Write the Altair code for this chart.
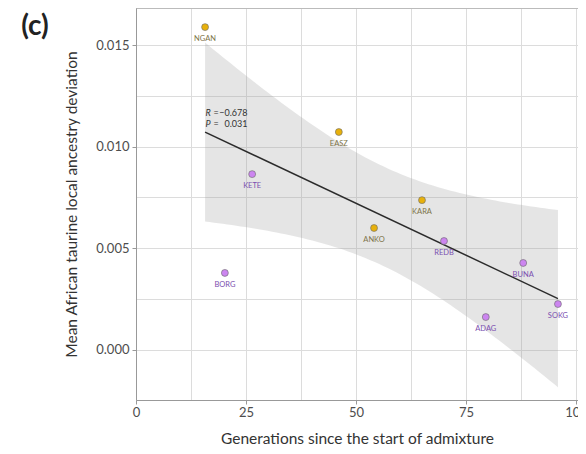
import altair as alt
import pandas as pd
import numpy as np

breeds = ["NGAN", "EASZ", "KETE", "KARA", "ANKO", "REDB", "BUNA", "SOKG", "ADAG", "BORG"]
generations = [15.7, 46.1, 26.4, 65.0, 54.1, 70.0, 88.0, 95.9, 79.5, 20.2]
deviation = [0.01588, 0.01072, 0.00865, 0.00737, 0.00600, 0.00536, 0.00428, 0.00226, 0.00162, 0.00379]
groups = ["A", "A", "B", "A", "A", "B", "B", "B", "B", "B"]

x_ticks = [0, 12.5, 25, 37.5, 50, 62.5, 75, 87.5, 100]
y_ticks = [0.0, 0.0025, 0.005, 0.0075, 0.01, 0.0125, 0.015]
stat_syms = ["R", "P"]
stat_vals = ["\u22120.678", "0.031"]

df = pd.DataFrame({"x": generations, "y": deviation, "breed": breeds, "group": groups})

# 95% confidence band of the linear fit (as geom_smooth does)
xa = np.array(generations)
ya = np.array(deviation)
n = len(xa)
slope, intercept = np.polyfit(xa, ya, 1)
resid = ya - (slope * xa + intercept)
s = np.sqrt((resid ** 2).sum() / (n - 2))
sxx = ((xa - xa.mean()) ** 2).sum()
t = 2.306
gx = np.linspace(xa.min(), xa.max(), 80)
fit = slope * gx + intercept
se = s * np.sqrt(1 / n + (gx - xa.mean()) ** 2 / sxx)
band = pd.DataFrame({"x": gx, "lo": fit - t * se, "hi": fit + t * se})

W, H = 442, 392
xdom = [0, W / 4.4]
ydom = [-0.00246, 0.01682]

xscale = alt.Scale(domain=xdom, nice=False, zero=False)
yscale = alt.Scale(domain=ydom, nice=False, zero=False)

FONT = "Lato"
xaxis = alt.Axis(
    values=x_ticks, title="Generations since the start of admixture",
    labelExpr="datum.value % 25 === 0 ? datum.value : ''",
    tickOpacity={"condition": {"test": "datum.value % 25 === 0", "value": 1}, "value": 0},
    tickSize=4, labelPadding=2, titlePadding=12, labelFontSize=13, titleFontSize=15.5,
    titleFontWeight="normal",
    labelColor="#4d4d4d", titleColor="#333333", tickColor="#999999",
    domainColor="#999999", gridColor="#dcdcdc", labelFont=FONT, titleFont=FONT,
    labelFlush=False, labelOverlap=False,
)
yaxis = alt.Axis(
    values=y_ticks, title="Mean African taurine local ancestry deviation",
    labelExpr="round(datum.value*10000) % 50 === 0 ? format(datum.value, '.3f') : ''",
    tickOpacity={"condition": {"test": "round(datum.value*10000) % 50 === 0", "value": 1}, "value": 0},
    tickSize=4, labelPadding=3, titlePadding=16, labelFontSize=13, titleFontSize=15.5,
    titleFontWeight="normal",
    labelColor="#4d4d4d", titleColor="#333333", tickColor="#999999",
    domainColor="#999999", gridColor="#dcdcdc", labelFont=FONT, titleFont=FONT,
    labelFlush=False, labelOverlap=False,
)

band_layer = alt.Chart(band).mark_area(color="#a0a0a0", opacity=0.28).encode(
    x=alt.X("x:Q", scale=xscale, axis=xaxis),
    y=alt.Y("lo:Q", scale=yscale, axis=yaxis),
    y2="hi:Q",
)

line_layer = alt.Chart(df).transform_regression("x", "y").mark_line(
    color="#2b2b2b", strokeWidth=1.5
).encode(x=alt.X("x:Q", scale=xscale), y=alt.Y("y:Q", scale=yscale))

color_scale = alt.Scale(domain=["A", "B"], range=["#e8b10c", "#cc85f0"])
label_scale = alt.Scale(domain=["A", "B"], range=["#7d7448", "#7b4fb0"])

pts = alt.Chart(df).mark_point(filled=True, size=48, opacity=1, stroke="#6a6a6a", strokeWidth=0.6).encode(
    x=alt.X("x:Q", scale=xscale), y=alt.Y("y:Q", scale=yscale),
    fill=alt.Fill("group:N", scale=color_scale, legend=None),
)

lbls = alt.Chart(df).mark_text(fontSize=7.5, dy=12, font=FONT).encode(
    x=alt.X("x:Q", scale=xscale), y=alt.Y("y:Q", scale=yscale),
    text="breed:N",
    color=alt.Color("group:N", scale=label_scale, legend=None),
)

stats = pd.DataFrame({
    "sym": stat_syms,
    "eq": ["=", "="],
    "val": stat_vals,
    "x": [15.8, 15.8],
    "y": [0.01166, 0.01112],
})
sbase = alt.Chart(stats).encode(x=alt.X("x:Q", scale=xscale), y=alt.Y("y:Q", scale=yscale))
stat_sym = sbase.mark_text(fontSize=9, fontStyle="italic", align="left", font=FONT, color="#333333").encode(text="sym:N")
stat_eq = sbase.mark_text(fontSize=9, align="left", dx=8, font=FONT, color="#333333").encode(text="eq:N")
stat_val = sbase.mark_text(fontSize=9, align="right", dx=42, font=FONT, color="#333333").encode(text="val:N")

panel_tag = alt.Chart(pd.DataFrame({"t": ["(c)"]})).mark_text(
    fontSize=28, fontWeight="bold", font=FONT, color="#222222"
).encode(x=alt.value(-101), y=alt.value(19), text="t:N")

top_border = alt.Chart(pd.DataFrame({"t": [0]})).mark_rule(color="#999999", strokeWidth=1).encode(
    x=alt.value(0), x2=alt.value(W), y=alt.value(0)
)

chart = alt.layer(band_layer, line_layer, pts, lbls, stat_sym, stat_eq, stat_val, panel_tag, top_border).properties(
    width=W, height=H,
    autosize=alt.AutoSizeParams(type="none"),
    padding={"left": 128, "top": 0, "right": 0, "bottom": 46},
).configure_view(fill="#f3f3f3", stroke=None).configure(background="white")

chart.save("out.html", embed_options={"renderer": "svg", "actions": False})
